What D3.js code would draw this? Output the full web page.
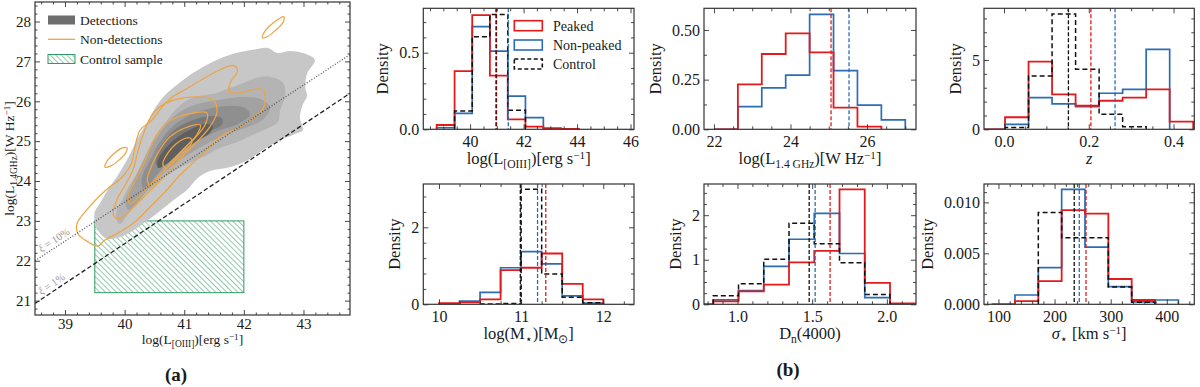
<!DOCTYPE html>
<html><head><meta charset="utf-8">
<script src="https://cdn.jsdelivr.net/npm/d3@7"></script>
<style>
body{margin:0;background:#fff;}
svg{display:block;}
text{font-family:"Liberation Serif","Times New Roman",serif;fill:#1a1a1a;}
</style></head><body>
<svg id="chart" width="1200" height="387"></svg>
<script>
// ================= DATA =================
// ---- panel (a): radio vs [OIII] luminosity ----
const leftXDomain = [38.497, 43.78];
const leftYDomain = [20.64, 28.49];
const leftXTicks = [39, 40, 41, 42, 43];
const leftYTicks = [21, 22, 23, 24, 25, 26, 27, 28];
// filled density levels of detections (outer -> inner), [logL_OIII, logL_1.4GHz]
const det1 = [[43.19,27.04],[43.06,26.69],[43.03,26.34],[43.06,26.14],[42.98,25.89],[42.94,25.58],[42.99,25.28],[42.86,25.18],[42.61,25.03],[42.32,24.78],[42.07,24.53],[41.77,24.35],[41.43,24.25],[41.23,24.08],[41.05,23.78],[40.80,23.50],[40.51,23.15],[40.26,22.88],[40.02,22.65],[39.82,22.55],[39.67,22.58],[39.57,22.73],[39.50,22.97],[39.50,23.23],[39.59,23.45],[39.72,23.78],[39.86,24.08],[39.99,24.40],[40.11,24.73],[40.22,25.08],[40.38,25.48],[40.51,25.83],[40.68,26.16],[40.90,26.44],[41.18,26.74],[41.48,26.99],[41.82,27.19],[42.15,27.29],[42.39,27.34],[42.56,27.21],[42.78,27.26],[43.03,27.19]];
const det2 = [[42.44,26.61],[42.66,26.46],[42.69,26.11],[42.61,25.78],[42.57,25.48],[42.41,25.33],[42.15,25.16],[41.89,24.98],[41.60,24.83],[41.32,24.61],[41.10,24.46],[40.80,24.23],[40.51,23.90],[40.26,23.53],[40.06,23.17],[39.92,22.92],[39.86,23.05],[39.87,23.28],[39.96,23.53],[40.06,23.83],[40.17,24.10],[40.29,24.46],[40.39,24.78],[40.51,25.11],[40.68,25.46],[40.85,25.78],[41.06,26.04],[41.35,26.16],[41.55,26.21],[41.77,26.34],[41.99,26.46],[42.22,26.59]];
const det3 = [[42.31,26.04],[42.44,25.83],[42.31,25.53],[42.02,25.33],[41.68,25.16],[41.35,24.91],[41.01,24.61],[40.68,24.23],[40.39,23.78],[40.17,23.40],[40.06,23.28],[40.02,23.53],[40.12,23.90],[40.26,24.33],[40.43,24.83],[40.63,25.28],[40.86,25.66],[41.18,25.91],[41.60,26.04],[41.99,26.11]];
const det4 = [[42.02,25.83],[42.10,25.66],[41.90,25.43],[41.57,25.26],[41.23,25.01],[40.93,24.71],[40.64,24.33],[40.43,23.95],[40.31,23.83],[40.29,24.08],[40.43,24.53],[40.59,24.98],[40.80,25.36],[41.10,25.66],[41.47,25.83],[41.80,25.89]];
const det5 = [[41.63,25.58],[41.63,25.41],[41.40,25.23],[41.10,25.01],[40.85,24.73],[40.63,24.46],[40.53,24.40],[40.54,24.66],[40.68,25.03],[40.88,25.33],[41.15,25.53],[41.43,25.63]];
const det6 = [[41.48,25.38],[41.43,25.21],[41.18,24.98],[40.93,24.73],[40.68,24.40],[40.56,24.33],[40.56,24.53],[40.69,24.83],[40.90,25.11],[41.13,25.31],[41.35,25.43]];
// density contours of non-detections
const nd1 = [[41.87,26.86],[41.89,26.74],[41.77,26.46],[41.75,26.24],[41.94,26.21],[42.15,26.29],[42.32,26.29],[42.36,26.04],[42.31,25.78],[42.15,25.58],[41.94,25.36],[41.60,25.11],[41.38,24.78],[41.15,24.46],[40.93,24.15],[40.68,23.73],[40.43,23.35],[40.17,22.97],[39.92,22.72],[39.67,22.52],[39.55,22.37],[39.39,22.47],[39.22,22.67],[39.20,22.92],[39.39,23.32],[39.67,23.75],[39.96,24.10],[40.12,24.46],[40.17,24.83],[40.26,25.28],[40.46,25.53],[40.63,25.86],[40.80,26.11],[41.01,26.29],[41.35,26.59],[41.60,26.79],[41.77,26.89]];
const nd2 = [[41.48,26.04],[41.55,25.73],[41.43,25.36],[41.23,25.01],[41.01,24.68],[40.80,24.33],[40.56,23.95],[40.31,23.58],[40.06,23.22],[39.89,23.05],[39.81,23.17],[39.87,23.53],[40.01,23.90],[40.14,24.28],[40.22,24.73],[40.31,25.16],[40.43,25.58],[40.59,25.86],[40.85,26.04],[41.18,26.11]];
const nd3 = [[41.38,25.71],[41.35,25.41],[41.18,25.08],[40.96,24.76],[40.73,24.38],[40.48,23.98],[40.26,23.63],[40.09,23.43],[40.06,23.63],[40.17,23.98],[40.31,24.40],[40.43,24.83],[40.56,25.21],[40.76,25.51],[41.06,25.68]];
const nd4 = [[41.27,25.41],[41.21,25.16],[41.03,24.86],[40.80,24.48],[40.59,24.13],[40.43,23.88],[40.38,24.03],[40.46,24.40],[40.59,24.78],[40.76,25.11],[41.01,25.33]];
const nd5 = [[41.10,25.08],[41.13,24.98],[41.00,24.73],[40.81,24.46],[40.68,24.33],[40.64,24.43],[40.73,24.71],[40.86,24.93],[41.00,25.06]];
const ndIslandLeft = [[39.67,24.35],[39.72,24.53],[39.84,24.71],[39.96,24.83],[40.04,24.83],[40.02,24.71],[39.91,24.53],[39.77,24.38]];
const ndIslandTop = [[42.31,27.59],[42.36,27.77],[42.47,27.94],[42.61,28.09],[42.67,28.12],[42.66,27.99],[42.54,27.79],[42.39,27.62]];
// control-sample box
const controlX = [39.5, 42.0];
const controlY = [21.2, 23.0];
// radio-efficiency lines
const xi10Line = [[38.497,22.0],[43.78,27.17]];
const xi1Line  = [[38.497,20.93],[43.78,26.2]];

// ---- panel (b): histograms (density) ----
// log L[OIII]
const oiiiEdges = [38.75, 39.42, 40.08, 40.74, 41.41, 42.07, 42.74, 43.40, 44.07];
const oiiiPeaked = [0.028, 0.38, 0.746, 0.35, 0.065, 0.017, 0.006, 0.003];
const oiiiNonPeaked = [0.01, 0.104, 0.67, 0.51, 0.217, 0.076, 0.007];
const oiiiControlEdges = [39.42, 40.08, 40.74, 41.41, 42.07];
const oiiiControl = [0.12, 0.605, 0.75, 0.125];
const oiiiMedians = [40.99, 41.43, 40.97]; // peaked, non-peaked, control
// log L1.4GHz
const lrEdges = [22.0, 22.625, 23.25, 23.875, 24.5, 25.125, 25.75, 26.375, 27.0];
const lrPeaked = [0, 0.226, 0.379, 0.483, 0.387, 0.109, 0.013];
const lrNonPeaked = [0, 0.114, 0.209, 0.273, 0.578, 0.295, 0.122, 0.047];
const lrMedians = [25.06, 25.53];
// redshift
const zEdges = [-0.053, 0.0024, 0.0579, 0.1134, 0.1689, 0.2244, 0.2799, 0.3354, 0.3909, 0.4464];
const zPeaked = [0, 0.87, 4.88, 2.52, 1.70, 2.06, 2.28, 2.88, 0.55];
const zNonPeaked = [0, 0.36, 2.28, 1.83, 1.63, 2.60, 2.88, 5.77];
const zControlEdges = [0.0024, 0.0579, 0.1134, 0.1689, 0.2244, 0.2799, 0.3354];
const zControl = [0.13, 3.85, 8.32, 4.33, 1.08, 0.19];
const zMedians = [0.205, 0.262, 0.152];
// log M*
const mEdges = [10.0, 10.25, 10.5, 10.75, 11.0, 11.25, 11.5, 11.75, 12.0];
const mPeaked = [0.03, 0.05, 0.13, 0.89, 0.95, 1.32, 0.53, 0.13];
const mNonPeaked = [0, 0.085, 0.31, 0.95, 1.37, 1.05, 0.22, 0.03];
const mControlEdges = [10.5, 10.75, 11.0, 11.25, 11.5, 11.75, 12.0];
const mControl = [0.01, 0.02, 2.99, 0.79, 0.18, 0.04];
const mMedians = [11.30, 11.20, 10.99];
// Dn(4000)
const dEdges = [0.669, 0.838, 1.007, 1.176, 1.345, 1.514, 1.683, 1.852, 2.021, 2.19];
const dPeaked = [0, 0.067, 0.29, 0.44, 0.94, 1.20, 2.58, 0.48, 0.02];
const dNonPeaked = [0, 0.10, 0.31, 0.85, 1.46, 2.04, 1.14, 0.15];
const dControlEdges = [0.838, 1.007, 1.176, 1.345, 1.514, 1.683, 1.852, 2.021];
const dControl = [0.19, 0.46, 1.01, 1.82, 1.36, 0.93, 0.22];
const dMedians = [1.62, 1.52, 1.48];
// sigma*
const sEdges = [87.8, 129.4, 171, 212.6, 254.2, 295.8, 337.4, 379, 420.6];
const sPeaked = [0, 0.00032, 0.00228, 0.00924, 0.0089, 0.00248, 0.00042];
const sNonPeaked = [0, 0.00091, 0.00359, 0.01127, 0.0056, 0.00173, 0.00023, 0.00042];
const sControlEdges = [171, 212.6, 254.2, 295.8, 337.4, 379];
const sControl = [0.0090, 0.00653, 0.00653, 0.0017, 0.0002];
const sMedians = [256, 244, 235];

// ================= DRAWING =================
const svg = d3.select("#chart");
const RED = "#e31a1c", BLUE = "#2b6cb5", BLACK = "#111", ORANGE = "#eea444", GREEN = "#2f9a62";
const GRAYS = ["#c7c7c7", "#b4b4b4", "#a2a2a2", "#8f8f8f", "#797979", "#5f5f5f"];
const defs = svg.append("defs");
const hatch = defs.append("pattern").attr("id", "hatch").attr("patternUnits", "userSpaceOnUse")
  .attr("width", 3.9).attr("height", 3.9).attr("patternTransform", "rotate(-45)");
hatch.append("line").attr("x1", 0).attr("y1", -1).attr("x2", 0).attr("y2", 5).attr("stroke", GREEN).attr("stroke-width", 1.05);

function rich(sel, parts, fs) {
  let cur = 0;
  parts.forEach(([s, k]) => {
    const t = sel.append("tspan").text(s);
    let target = 0, size = fs;
    if (k === "sub") { target = 0.25 * fs; size = 0.7 * fs; }
    if (k === "sup") { target = -0.33 * fs; size = 0.68 * fs; }
    if (k === "i") t.attr("font-style", "italic");
    t.attr("font-size", size).attr("dy", target - cur);
    cur = target;
  });
}
function minorVals(dom, step, majors) {
  const out = [];
  for (let k = Math.ceil(dom[0] / step - 1e-9); k <= Math.floor(dom[1] / step + 1e-9); k++) {
    const v = +(k * step).toFixed(6);
    if (!majors.some(m => Math.abs(m - v) < step * 1e-3)) out.push(v);
  }
  return out;
}
function axesFrame(g, x, y, spec) {
  const w = x.range()[1] - x.range()[0], h = y.range()[0] - y.range()[1];
  const xMin = minorVals(x.domain(), spec.xMinor, spec.xMajor);
  const yMin = minorVals(y.domain(), spec.yMinor, spec.yMajor);
  const ML = spec.majLen, mL = spec.minLen;
  const style = s => s.attr("font-size", spec.fs).attr("font-family", '"Liberation Serif","Times New Roman",serif').style("color", "#222");
  const ax = g.append("g").attr("class", "ax");
  ax.append("g").attr("transform", `translate(0,${y.range()[0]})`).call(d3.axisBottom(x).tickValues(spec.xMajor).tickSize(-ML).tickPadding(spec.padX).tickFormat(spec.xFmt)).call(style);
  ax.append("g").attr("transform", `translate(0,${y.range()[0]})`).call(d3.axisBottom(x).tickValues(xMin).tickSize(-mL).tickFormat(""));
  ax.append("g").attr("transform", `translate(0,${y.range()[1]})`).call(d3.axisTop(x).tickValues(spec.xMajor).tickSize(-ML).tickFormat(""));
  ax.append("g").attr("transform", `translate(0,${y.range()[1]})`).call(d3.axisTop(x).tickValues(xMin).tickSize(-mL).tickFormat(""));
  const yAx = ax.append("g").attr("class", "yax").attr("transform", `translate(${x.range()[0]},0)`).call(d3.axisLeft(y).tickValues(spec.yMajor).tickSize(-ML).tickPadding(spec.padY).tickFormat(spec.yFmt)).call(style);
  ax.append("g").attr("transform", `translate(${x.range()[0]},0)`).call(d3.axisLeft(y).tickValues(yMin).tickSize(-mL).tickFormat(""));
  ax.append("g").attr("transform", `translate(${x.range()[1]},0)`).call(d3.axisRight(y).tickValues(spec.yMajor).tickSize(-ML).tickFormat(""));
  ax.append("g").attr("transform", `translate(${x.range()[1]},0)`).call(d3.axisRight(y).tickValues(yMin).tickSize(-mL).tickFormat(""));
  ax.selectAll(".domain").remove();
  ax.selectAll(".tick line").attr("stroke", "#333").attr("stroke-width", 0.9);
  g.append("rect").attr("x", x.range()[0]).attr("y", y.range()[1]).attr("width", w).attr("height", h)
    .attr("fill", "none").attr("stroke", "#333").attr("stroke-width", 1.2);
  let wMax = 0;
  yAx.selectAll("text").each(function () { wMax = Math.max(wMax, this.getComputedTextLength()); });
  return wMax;
}

// ---------- panel (a) ----------
const LB = {x0: 35, x1: 350, y0: 2, y1: 315};
const lx = d3.scaleLinear().domain(leftXDomain).range([LB.x0, LB.x1]);
const ly = d3.scaleLinear().domain(leftYDomain).range([LB.y1, LB.y0]);
defs.append("clipPath").attr("id", "clipL").append("rect").attr("x", LB.x0).attr("y", LB.y0).attr("width", LB.x1 - LB.x0).attr("height", LB.y1 - LB.y0);
const gL = svg.append("g");
const plotL = gL.append("g").attr("clip-path", "url(#clipL)");
plotL.append("rect").attr("x", lx(controlX[0])).attr("y", ly(controlY[1]))
  .attr("width", lx(controlX[1]) - lx(controlX[0])).attr("height", ly(controlY[0]) - ly(controlY[1]))
  .attr("fill", "url(#hatch)").attr("stroke", GREEN).attr("stroke-width", 1);
const closedLine = d3.line().x(d => lx(d[0])).y(d => ly(d[1])).curve(d3.curveCatmullRomClosed.alpha(0.5));
[det1, det2, det3, det4, det5, det6].forEach((poly, i) => {
  plotL.append("path").attr("d", closedLine(poly)).attr("fill", GRAYS[i]).attr("stroke", "none");
});
[nd1, nd2, nd3, nd4, nd5, ndIslandLeft, ndIslandTop].forEach(poly => {
  plotL.append("path").attr("d", closedLine(poly)).attr("fill", "none").attr("stroke", ORANGE).attr("stroke-width", 1.25);
});
const straight = d3.line().x(d => lx(d[0])).y(d => ly(d[1]));
plotL.append("path").attr("d", straight(xi10Line)).attr("stroke", "#555").attr("stroke-width", 1.3).attr("stroke-dasharray", "1,1.8").attr("fill", "none");
plotL.append("path").attr("d", straight(xi1Line)).attr("stroke", "#222").attr("stroke-width", 1.3).attr("stroke-dasharray", "4.5,2.5").attr("fill", "none");
function xiLabel(line, xv, txt) {
  const [a, b] = line;
  const t = (xv - a[0]) / (b[0] - a[0]);
  const yv = a[1] + t * (b[1] - a[1]);
  const ang = Math.atan2(ly(b[1]) - ly(a[1]), lx(b[0]) - lx(a[0])) * 180 / Math.PI;
  const tx = gL.append("text").attr("transform", `translate(${lx(xv)},${ly(yv)}) rotate(${ang})`)
    .attr("y", -3.5).attr("text-anchor", "middle").attr("font-size", 10.5).style("fill", "#9a9a9a");
  rich(tx, [["ξ", "i"], [" = " + txt, "n"]], 10.5);
}
xiLabel(xi10Line, 38.88, "10%");
xiLabel(xi1Line, 38.84, "1%");
const wL = axesFrame(gL, lx, ly, {xMajor: leftXTicks, yMajor: leftYTicks, xMinor: 0.2, yMinor: 0.2, majLen: 5, minLen: 2.5,
  fs: 15, padX: 3, padY: 4, xFmt: d3.format("d"), yFmt: d3.format("d")});
// legend (a)
const legL = gL.append("g");
legL.append("rect").attr("x", 48).attr("y", 15.5).attr("width", 27).attr("height", 9).attr("fill", "#6e6e6e");
legL.append("text").attr("x", 80).attr("y", 24.5).attr("font-size", 13.5).text("Detections");
legL.append("line").attr("x1", 48).attr("x2", 75).attr("y1", 39.3).attr("y2", 39.3).attr("stroke", ORANGE).attr("stroke-width", 1.3);
legL.append("text").attr("x", 80).attr("y", 44).attr("font-size", 13.5).text("Non-detections");
legL.append("rect").attr("x", 48).attr("y", 54.5).attr("width", 27).attr("height", 9).attr("fill", "url(#hatch)").attr("stroke", GREEN).attr("stroke-width", 1);
legL.append("text").attr("x", 80).attr("y", 63.5).attr("font-size", 13.5).text("Control sample");
// labels (a)
rich(gL.append("text").attr("x", (LB.x0 + LB.x1) / 2).attr("y", 344).attr("text-anchor", "middle").attr("font-size", 13.5),
  [["log(L", "n"], ["[OIII]", "sub"], [")[erg s", "n"], ["−1", "sup"], ["]", "n"]], 13.5);
rich(gL.append("text").attr("transform", `translate(14,${(LB.y0 + LB.y1) / 2}) rotate(-90)`).attr("text-anchor", "middle").attr("font-size", 13.5),
  [["log(L", "n"], ["1.4GHz", "sub"], [")[W Hz", "n"], ["−1", "sup"], ["]", "n"]], 13.5);
svg.append("text").attr("x", 176).attr("y", 381).attr("text-anchor", "middle").attr("font-size", 19).attr("font-weight", "bold").text("(a)");
svg.append("text").attr("x", 788).attr("y", 376).attr("text-anchor", "middle").attr("font-size", 19).attr("font-weight", "bold").text("(b)");

// ---------- panel (b) ----------
const COLS = [[423.3, 634], [704, 916], [984, 1194.3]];
const ROWS = [[8.3, 129.3], [184, 304.3]];
const f1 = d3.format(".1f"), f2 = d3.format(".2f"), f3 = d3.format(".3f"), fd = d3.format("d");
const panels = [
  {c: 0, r: 0, xd: [38.25, 46.13], yd: [0, 0.79], xMajor: [40, 42, 44, 46], xMinor: 0.5, yMajor: [0, 0.5], yMinor: 0.1, xFmt: fd, yFmt: f1,
    edges: oiiiEdges, peaked: oiiiPeaked, non: oiiiNonPeaked, cEdges: oiiiControlEdges, ctrl: oiiiControl, med: oiiiMedians,
    label: [["log(L", "n"], ["[OIII]", "sub"], [")[erg s", "n"], ["−1", "sup"], ["]", "n"]], legend: true},
  {c: 1, r: 0, xd: [21.74, 27.28], yd: [0, 0.609], xMajor: [22, 24, 26], xMinor: 0.5, yMajor: [0, 0.25, 0.5], yMinor: 0.125, xFmt: fd, yFmt: f2,
    edges: lrEdges, peaked: lrPeaked, non: lrNonPeaked, cEdges: null, ctrl: null, med: lrMedians,
    label: [["log(L", "n"], ["1.4 GHz", "sub"], [")[W Hz", "n"], ["−1", "sup"], ["]", "n"]]},
  {c: 2, r: 0, xd: [-0.0472, 0.449], yd: [0, 8.73], xMajor: [0, 0.2, 0.4], xMinor: 0.05, yMajor: [0, 5], yMinor: 1, xFmt: f1, yFmt: fd,
    edges: zEdges, peaked: zPeaked, non: zNonPeaked, cEdges: zControlEdges, ctrl: zControl, med: zMedians,
    label: [["z", "i"]]},
  {c: 0, r: 1, xd: [9.809, 12.374], yd: [0, 3.125], xMajor: [10, 11, 12], xMinor: 0.25, yMajor: [0, 2], yMinor: 0.4, xFmt: fd, yFmt: fd,
    edges: mEdges, peaked: mPeaked, non: mNonPeaked, cEdges: mControlEdges, ctrl: mControl, med: mMedians,
    label: [["log(M", "n"], ["⋆", "sub"], [")[M", "n"], ["⊙", "sub"], ["]", "n"]]},
  {c: 1, r: 1, xd: [0.776, 2.195], yd: [0, 2.70], xMajor: [1.0, 1.5, 2.0], xMinor: 0.1, yMajor: [0, 1, 2], yMinor: 0.25, xFmt: f1, yFmt: fd,
    edges: dEdges, peaked: dPeaked, non: dNonPeaked, cEdges: dControlEdges, ctrl: dControl, med: dMedians,
    label: [["D", "n"], ["n", "sub"], ["(4000)", "n"]]},
  {c: 2, r: 1, xd: [74.2, 449], yd: [0, 0.0118], xMajor: [100, 200, 300, 400], xMinor: 20, yMajor: [0, 0.005, 0.01], yMinor: 0.001, xFmt: fd, yFmt: f3,
    edges: sEdges, peaked: sPeaked, non: sNonPeaked, cEdges: sControlEdges, ctrl: sControl, med: sMedians,
    label: [["σ", "i"], ["⋆", "sub"], [" [km s", "n"], ["−1", "sup"], ["]", "n"]]}
];
function stepPoints(edges, vals) {
  const pts = [[edges[0], 0]];
  vals.forEach((v, i) => { pts.push([edges[i], v]); pts.push([edges[i + 1], v]); });
  pts.push([edges[vals.length], 0]);
  return pts;
}
panels.forEach((p, i) => {
  const [x0, x1] = COLS[p.c], [y0, y1] = ROWS[p.r];
  const x = d3.scaleLinear().domain(p.xd).range([x0, x1]);
  const y = d3.scaleLinear().domain(p.yd).range([y1, y0]);
  const g = svg.append("g");
  defs.append("clipPath").attr("id", "clipP" + i).append("rect").attr("x", x0).attr("y", y0).attr("width", x1 - x0).attr("height", y1 - y0);
  const pl = g.append("g").attr("clip-path", `url(#clipP${i})`);
  const line = d3.line().x(d => x(d[0])).y(d => y(d[1]));
  pl.append("path").attr("d", line(stepPoints(p.edges, p.non))).attr("fill", "none").attr("stroke", BLUE).attr("stroke-width", 1.7);
  pl.append("path").attr("d", line(stepPoints(p.edges, p.peaked))).attr("fill", "none").attr("stroke", RED).attr("stroke-width", 1.8);
  if (p.ctrl) pl.append("path").attr("d", line(stepPoints(p.cEdges, p.ctrl))).attr("fill", "none").attr("stroke", BLACK).attr("stroke-width", 1.5).attr("stroke-dasharray", "5,3");
  const medCols = [RED, BLUE, BLACK];
  p.med.forEach((m, k) => {
    pl.append("line").attr("x1", x(m)).attr("x2", x(m)).attr("y1", y0).attr("y2", y1)
      .attr("stroke", medCols[k]).attr("stroke-width", 1.3).attr("stroke-dasharray", "4,2");
  });
  const wMax = axesFrame(g, x, y, {xMajor: p.xMajor, yMajor: p.yMajor, xMinor: p.xMinor, yMinor: p.yMinor, majLen: 5, minLen: 3,
    fs: 16, padX: 6, padY: 4, xFmt: p.xFmt, yFmt: p.yFmt});
  rich(g.append("text").attr("transform", `translate(${x0 - 4 - wMax - 11},${(y0 + y1) / 2}) rotate(-90)`).attr("text-anchor", "middle").attr("dy", "0.35em").attr("font-size", 16.5), [["Density", "n"]], 16.5);
  rich(g.append("text").attr("x", (x0 + x1) / 2).attr("y", y1 + 35).attr("text-anchor", "middle").attr("font-size", 16.5), p.label, 16.5);
  if (p.legend) {
    const items = [["Peaked", RED, null], ["Non-peaked", BLUE, null], ["Control", BLACK, "4,2.5"]];
    const rowsY = [25.7, 45, 64];
    items.forEach(([t, c, dash], k) => {
      g.append("rect").attr("x", 514.3).attr("y", rowsY[k] - 5).attr("width", 28).attr("height", 10)
        .attr("fill", "none").attr("stroke", c).attr("stroke-width", 1.6).attr("stroke-dasharray", dash);
      g.append("text").attr("x", 553).attr("y", rowsY[k] + 4.8).attr("font-size", 14).text(t);
    });
  }
});
</script>
</body></html>
